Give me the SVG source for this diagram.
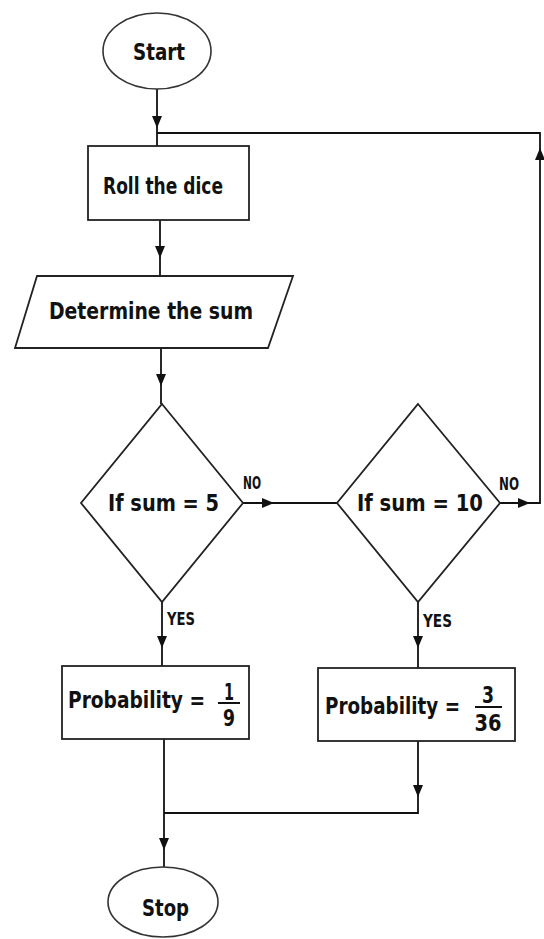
<svg xmlns="http://www.w3.org/2000/svg" xmlns:xlink="http://www.w3.org/1999/xlink" width="544" height="939" viewBox="0 0 544 939">
<style>
.shape{fill:#fff;stroke:#222;stroke-width:1.8}
.oval{fill:#fff;stroke:#333;stroke-width:1.6}
.conn{fill:none;stroke:#111;stroke-width:1.8}
.t{font-family:"DejaVu Sans Condensed","DejaVu Sans","Liberation Sans",sans-serif;font-weight:bold;font-size:23px;fill:#111}
.s{font-family:"DejaVu Sans Condensed","DejaVu Sans","Liberation Sans",sans-serif;font-weight:bold;font-size:17px;fill:#111}
.ah{fill:#111}
</style>
<defs>
<path id="ah" d="M-5,-12 L5,-12 L0,0 Z"/>
</defs>
<rect width="544" height="939" fill="#fff"/>
<g id="connectors">
<path class="conn" d="M157,89 L157,146"/>
<path class="conn" d="M500,503 L540,503 L540,133 L157,133"/>
<path class="conn" d="M160,220 L160,276"/>
<path class="conn" d="M161,348 L161,404"/>
<path class="conn" d="M243,503 L337,503"/>
<path class="conn" d="M162,602 L162,666"/>
<path class="conn" d="M418,602 L418,668"/>
<path class="conn" d="M164,739 L164,867"/>
<path class="conn" d="M418,741 L418,813 L164,813"/>
<use xlink:href="#ah" class="ah" transform="translate(157,128)"/>
<use xlink:href="#ah" class="ah" transform="translate(160,258)"/>
<use xlink:href="#ah" class="ah" transform="translate(161,386)"/>
<use xlink:href="#ah" class="ah" transform="translate(274,503) rotate(-90)"/>
<use xlink:href="#ah" class="ah" transform="translate(530,503) rotate(-90)"/>
<use xlink:href="#ah" class="ah" transform="translate(540,148) rotate(180)"/>
<use xlink:href="#ah" class="ah" transform="translate(162,648)"/>
<use xlink:href="#ah" class="ah" transform="translate(418,648)"/>
<use xlink:href="#ah" class="ah" transform="translate(418,797)"/>
<use xlink:href="#ah" class="ah" transform="translate(164,850)"/>
<text class="s" x="243" y="489" textLength="18" lengthAdjust="spacingAndGlyphs">NO</text>
<text class="s" x="499" y="490" textLength="20" lengthAdjust="spacingAndGlyphs">NO</text>
<text class="s" x="167" y="625" textLength="28" lengthAdjust="spacingAndGlyphs">YES</text>
<text class="s" x="423" y="627" textLength="29" lengthAdjust="spacingAndGlyphs">YES</text>
</g>
<g id="start">
<ellipse class="oval" cx="157" cy="51" rx="54" ry="38"/>
<text class="t" x="133" y="60" textLength="52" lengthAdjust="spacingAndGlyphs">Start</text>
</g>
<g id="roll">
<rect class="shape" x="88" y="146" width="161" height="74"/>
<text class="t" x="103" y="194" textLength="120" lengthAdjust="spacingAndGlyphs">Roll the dice</text>
</g>
<g id="determine">
<polygon class="shape" points="37,276 293,276 268,348 15,348"/>
<text class="t" x="49" y="319" textLength="204" lengthAdjust="spacingAndGlyphs">Determine the sum</text>
</g>
<g id="if5">
<polygon class="shape" points="162,404 243,503 162,602 81,503"/>
<text class="t" x="108" y="511" textLength="111" lengthAdjust="spacingAndGlyphs">If sum = 5</text>
</g>
<g id="if10">
<polygon class="shape" points="418,404 500,503 418,602 337,503"/>
<text class="t" x="357" y="511" textLength="126" lengthAdjust="spacingAndGlyphs">If sum = 10</text>
</g>
<g id="prob1">
<rect class="shape" x="62" y="666" width="187" height="73"/>
<text class="t" x="68" y="708" textLength="137" lengthAdjust="spacingAndGlyphs">Probability =</text>
<text class="t" x="229" y="700" text-anchor="middle" textLength="10" lengthAdjust="spacingAndGlyphs">1</text>
<line x1="218" y1="703" x2="240" y2="703" stroke="#111" stroke-width="2"/>
<text class="t" x="229" y="726" text-anchor="middle" textLength="12" lengthAdjust="spacingAndGlyphs">9</text>
</g>
<g id="prob2">
<rect class="shape" x="318" y="668" width="197" height="73"/>
<text class="t" x="325" y="714" textLength="135" lengthAdjust="spacingAndGlyphs">Probability =</text>
<text class="t" x="488" y="703" text-anchor="middle" textLength="12" lengthAdjust="spacingAndGlyphs">3</text>
<line x1="475" y1="707" x2="502" y2="707" stroke="#111" stroke-width="2"/>
<text class="t" x="488" y="731" text-anchor="middle" textLength="27" lengthAdjust="spacingAndGlyphs">36</text>
</g>
<g id="stop">
<ellipse class="oval" cx="163" cy="902" rx="55" ry="35"/>
<text class="t" x="142" y="916" textLength="47" lengthAdjust="spacingAndGlyphs">Stop</text>
</g>
</svg>
